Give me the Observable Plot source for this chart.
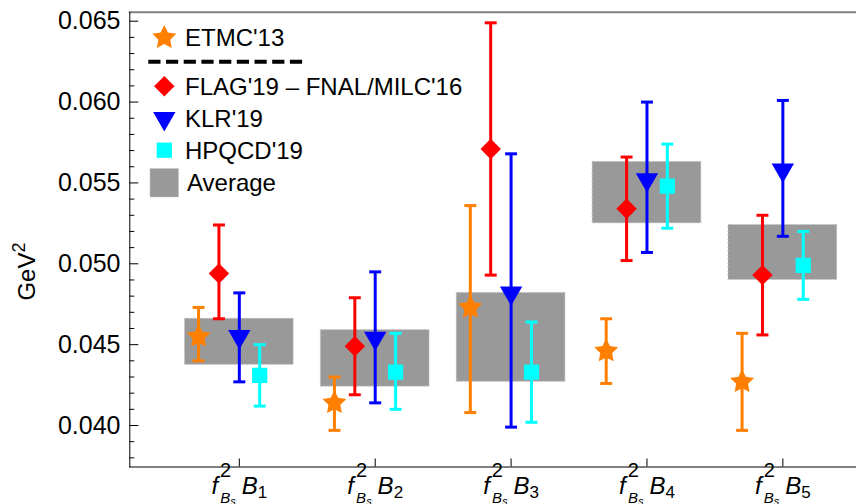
<!DOCTYPE html>
<html><head><meta charset="utf-8">
<script src="https://cdn.jsdelivr.net/npm/d3@7"></script>
<script src="https://cdn.jsdelivr.net/npm/@observablehq/plot@0.6"></script>
<style>
body{margin:0;background:#fff;}
#chart{position:relative;width:856px;height:504px;font-family:"Liberation Sans",Arial,sans-serif;}
#chart svg{position:absolute;left:0;top:0;}
</style></head><body><div id="chart"></div>
<script>
// ---- data ----
const categories = ["B1", "B2", "B3", "B4", "B5"];
const seriesNames = ["ETMC'13", "FLAG'19 \u2013 FNAL/MILC'16", "KLR'19", "HPQCD'19", "Average"];
const yMajorTicks = [0.040, 0.045, 0.050, 0.055, 0.060, 0.065];

const etmcVal = [0.0455, 0.0414, 0.0473, 0.0446, 0.0427];
const etmcLo  = [0.0440, 0.0397, 0.0408, 0.0426, 0.0397];
const etmcHi  = [0.0473, 0.0430, 0.0536, 0.0466, 0.0457];

const flagVal = [0.0494, 0.0449, 0.0571, 0.0534, 0.0493];
const flagLo  = [0.0466, 0.0419, 0.0493, 0.0502, 0.0456];
const flagHi  = [0.0524, 0.0479, 0.0649, 0.0566, 0.0530];

const klrVal = [0.0455, 0.0454, 0.0482, 0.0552, 0.0558];
const klrLo  = [0.0427, 0.0414, 0.0399, 0.0507, 0.0517];
const klrHi  = [0.0482, 0.0495, 0.0568, 0.0600, 0.0601];

const hpqcdVal = [0.0431, 0.0433, 0.0433, 0.0548, 0.0499];
const hpqcdLo  = [0.0412, 0.0410, 0.0402, 0.0522, 0.0478];
const hpqcdHi  = [0.0450, 0.0457, 0.0464, 0.0574, 0.0520];

const avgLo = [0.04375, 0.0424, 0.0427, 0.0525, 0.0490];
const avgHi = [0.0466, 0.0459, 0.0482, 0.0563, 0.0524];

// ---- styling / layout ----
const colors = {etmc: "#FF7F00", flag: "#FF0000", klr: "#0000FF", hpqcd: "#00FFFF", avg: "#999999"};

// fatter five-pointed star (outer radius 1.7·r, inner ratio 0.5)
const fatStar = {
  draw(context, size) {
    const R = 1.7 * Math.sqrt(size / Math.PI), ri = R * 0.5;
    for (let k = 0; k < 10; ++k) {
      const a = -Math.PI / 2 + k * Math.PI / 5, rr = k % 2 ? ri : R;
      const px = rr * Math.cos(a), py = rr * Math.sin(a);
      if (k === 0) context.moveTo(px, py); else context.lineTo(px, py);
    }
    context.closePath();
  }
};

const series = [
  {key: "etmc", val: etmcVal, lo: etmcLo, hi: etmcHi, offset: -0.30, symbol: fatStar, r: 7.4, rotate: 0},
  {key: "flag", val: flagVal, lo: flagLo, hi: flagHi, offset: -0.15, symbol: "diamond2", r: 9.2, rotate: 0},
  {key: "klr", val: klrVal, lo: klrLo, hi: klrHi, offset: 0.0, symbol: "triangle", r: 8.3, rotate: 180},
  {key: "hpqcd", val: hpqcdVal, lo: hpqcdLo, hi: hpqcdHi, offset: 0.15, symbol: "square", r: 8.6, rotate: 0}
];
const cap = 0.044;
const boxHalf = 0.4;

const avgRows = categories.map((c, i) => ({x: i + 1, lo: avgLo[i], hi: avgHi[i]}));

const marks = [
  Plot.rect(avgRows, {x1: d => d.x - boxHalf, x2: d => d.x + boxHalf, y1: "lo", y2: "hi",
    fill: colors.avg, stroke: "#c4c4c4", strokeWidth: 1, strokeDasharray: "2,2"})
];
for (const s of series) {
  const rows = categories.map((c, i) => ({x: i + 1 + s.offset, val: s.val[i], lo: s.lo[i], hi: s.hi[i]}));
  const col = colors[s.key];
  marks.push(
    Plot.ruleX(rows, {x: "x", y1: "lo", y2: "hi", stroke: col, strokeWidth: 3}),
    Plot.link(rows, {x1: d => d.x - cap, x2: d => d.x + cap, y1: "hi", y2: "hi", stroke: col, strokeWidth: 3}),
    Plot.link(rows, {x1: d => d.x - cap, x2: d => d.x + cap, y1: "lo", y2: "lo", stroke: col, strokeWidth: 3}),
    Plot.dot(rows, {x: "x", y: "val", symbol: s.symbol, r: s.r, fill: col, stroke: "none", rotate: s.rotate})
  );
}
const yMinor = d3.range(38, 66).filter(k => k % 5 !== 0).map(k => k / 1000);

marks.push(
  Plot.frame({anchor: "top", stroke: "#808080", strokeWidth: 2}),
  Plot.frame({anchor: "left", stroke: "black", strokeWidth: 1}),
  Plot.frame({anchor: "bottom", stroke: "black", strokeWidth: 1}),
  Plot.axisY({ticks: yMajorTicks, tickSize: 0, tickPadding: 9.3, fontSize: 25, tickFormat: d3.format(".3f"), label: null}),
  Plot.axisY({ticks: yMajorTicks, tickSize: -9, tickFormat: () => "", label: null}),
  Plot.axisY({ticks: yMinor, tickSize: -5, tickFormat: () => "", label: null}),
  Plot.axisX({ticks: [1, 2, 3, 4, 5], tickSize: -8, tickFormat: () => "", label: null}),
  Plot.text(categories, {x: (d, i) => i + 1, frameAnchor: "bottom", dy: 26.5, fontSize: 24, fill: "black", textAnchor: "middle"}),
  Plot.text(["GeV\u00B2"], {frameAnchor: "left", dx: -102, dy: 32, rotate: -90, fontSize: 24, fill: "black", textAnchor: "middle"})
);

const plot = Plot.plot({
  width: 856, height: 504,
  marginLeft: 129.3, marginRight: 0, marginTop: 11.7, marginBottom: 37.5,
  style: {fontFamily: "'Liberation Sans', Arial, sans-serif", background: "white", color: "black"},
  x: {domain: [0.194, 5.542], axis: null},
  y: {domain: [0.037434, 0.065557], axis: null},
  marks
});
document.getElementById("chart").appendChild(plot);

// rich labels: f^2_{B_s} B_i  and GeV^2
d3.select(plot).selectAll("text").each(function () {
  const t = d3.select(this);
  const s = t.text();
  if (/^B\d$/.test(s)) {
    const n = s.slice(1);
    t.text("");
    t.append("tspan").attr("font-style", "italic").text("f");
    t.append("tspan").attr("font-size", 20).attr("dx", 2).attr("dy", -17).text("2");
    t.append("tspan").attr("font-size", 15).attr("font-style", "italic").attr("dx", -11).attr("dy", 26).text("B");
    t.append("tspan").attr("font-size", 11).attr("font-style", "italic").attr("dy", 2).text("s");
    t.append("tspan").attr("font-style", "italic").attr("dx", 6).attr("dy", -11).text("B");
    t.append("tspan").attr("font-size", 17).attr("dy", 4).text(n);
  } else if (s === "GeV\u00B2") {
    t.text("");
    t.append("tspan").text("GeV");
    t.append("tspan").attr("font-size", 18).attr("dy", -10).text("2");
  }
});

// legend overlay
const leg = d3.select("#chart").append("svg").attr("width", 856).attr("height", 504)
  .style("pointer-events", "none").style("font-family", "'Liberation Sans', Arial, sans-serif");
const legSym = [
  {type: fatStar, r: 7.4, col: colors.etmc, y: 37.7, rot: 0},
  {type: d3.symbolDiamond2, r: 9.2, col: colors.flag, y: 86.3, rot: 0},
  {type: d3.symbolTriangle, r: 8.3, col: colors.klr, y: 118.5, rot: 180},
  {type: d3.symbolSquare, r: 8.6, col: colors.hpqcd, y: 150.2, rot: 0}
];
legSym.forEach((s, i) => {
  leg.append("path").attr("d", d3.symbol(s.type, Math.PI * s.r * s.r)())
    .attr("fill", s.col).attr("transform", `translate(164.3,${s.y}) rotate(${s.rot})`);
  leg.append("text").attr("x", 185).attr("y", s.y).attr("dy", "0.35em").attr("font-size", 24).text(seriesNames[i]);
});
leg.append("rect").attr("x", 150).attr("y", 168.5).attr("width", 28.5).attr("height", 28.5)
  .attr("fill", colors.avg).attr("stroke", "#c4c4c4").attr("stroke-dasharray", "2,2");
leg.append("text").attr("x", 187).attr("y", 182.7).attr("dy", "0.35em").attr("font-size", 24).text(seriesNames[4]);
leg.append("line").attr("x1", 148.3).attr("x2", 307).attr("y1", 61.7).attr("y2", 61.7)
  .attr("stroke", "black").attr("stroke-width", 4).attr("stroke-dasharray", "12.2,5.5");
</script></body></html>
